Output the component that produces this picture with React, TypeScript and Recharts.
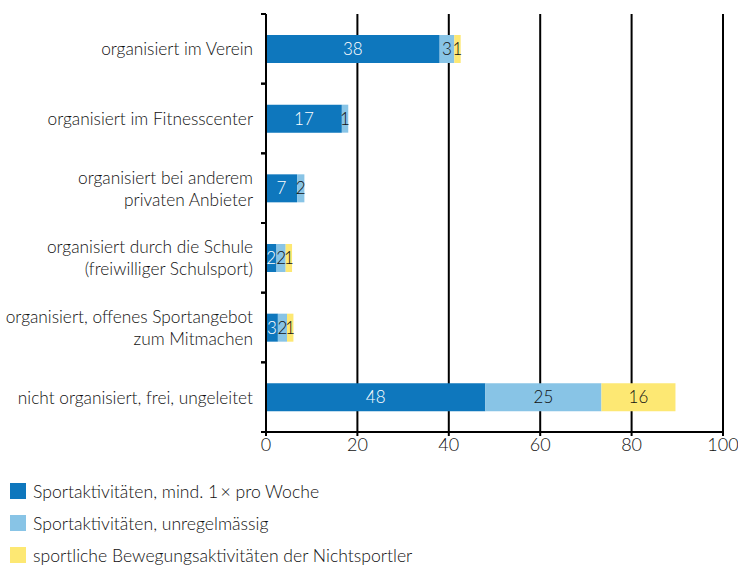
import React from "react";
import {
  BarChart,
  Bar,
  XAxis,
  YAxis,
  CartesianGrid,
  LabelList,
} from "recharts";

const categories = [
  "organisiert im Verein",
  "organisiert im Fitnesscenter",
  "organisiert bei anderem\nprivaten Anbieter",
  "organisiert durch die Schule\n(freiwilliger Schulsport)",
  "organisiert, offenes Sportangebot\nzum Mitmachen",
  "nicht organisiert, frei, ungeleitet",
];
const weekly = [38, 16.6, 6.8, 2.3, 2.6, 48];
const irregular = [3.2, 1.4, 1.6, 2, 2, 25.4];
const nonSport = [1.4, 0, 0, 1.4, 1.4, 16.2];
const xTicks = [0, 20, 40, 60, 80, 100];

const seriesNames = [
  "Sportaktivitäten, mind. 1\u2009× pro Woche",
  "Sportaktivitäten, unregelmässig",
  "sportliche Bewegungsaktivitäten der Nichtsportler",
];
const colors = ["#0e77bd", "#88c4e6", "#fde873"];

const data = categories.map((name, i) => ({
  name,
  weekly: weekly[i],
  irregular: irregular[i],
  nonSport: nonSport[i],
}));

const FONT = "Lato, 'Open Sans', sans-serif";
const WEIGHT = 300;
const TEXT = "#111";
const BAND = (432 - 14) / categories.length;

function CategoryTick(props: { x?: number; y?: number; payload?: { value: string } }) {
  const { y = 0, payload } = props;
  const lines = (payload?.value ?? "").split("\n");
  const lineGap = 22;
  const start = y - ((lines.length - 1) * lineGap) / 2;
  return (
    <g>
      <line x1={261} x2={266} y1={y - BAND / 2} y2={y - BAND / 2} stroke="#000" strokeWidth={2} />
      <line x1={261} x2={266} y1={y + BAND / 2} y2={y + BAND / 2} stroke="#000" strokeWidth={2} />
      {lines.map((l, i) => (
        <text
          key={i}
          x={253}
          y={start + i * lineGap}
          textAnchor="end"
          dominantBaseline="central"
          fill={TEXT}
          fontSize={17.3}
          fontWeight={WEIGHT}
          fontFamily={FONT}
        >
          {l}
        </text>
      ))}
    </g>
  );
}

const fmt = (v: unknown) => {
  const n = Number(v);
  return n > 0 ? Math.round(n) : "";
};

export default function App() {
  return (
    <div style={{ position: "absolute", left: 0, top: 0, width: 738, height: 570, background: "#fff" }}>
      <BarChart
        width={738}
        height={470}
        data={data}
        layout="vertical"
        margin={{ top: 14, right: 15, bottom: 8, left: 0 }}
        barSize={28}
      >
        <CartesianGrid horizontal={false} stroke="#000" strokeWidth={2} />
        <XAxis
          type="number"
          domain={[0, 100]}
          ticks={xTicks}
          interval={0}
          axisLine={{ stroke: "#000", strokeWidth: 2 }}
          tickLine={{ stroke: "#000", strokeWidth: 2 }}
          tickSize={4}
          tick={{ fill: TEXT, fontSize: 18, fontFamily: FONT, fontWeight: WEIGHT }}
          height={30}
        />
        <XAxis
          xAxisId="top"
          orientation="top"
          type="number"
          domain={[0, 100]}
          tick={false}
          tickLine={false}
          axisLine={{ stroke: "#000", strokeWidth: 2 }}
          height={0}
        />
        <YAxis
          type="category"
          dataKey="name"
          width={266}
          axisLine={{ stroke: "#000", strokeWidth: 2 }}
          tickLine={false}
          tick={<CategoryTick />}
          interval={0}
        />
        <Bar dataKey="weekly" stackId="a" fill={colors[0]} isAnimationActive={false}>
          <LabelList dataKey="weekly" position="center" formatter={fmt} fill="#fff" fontSize={17} fontWeight={WEIGHT} fontFamily={FONT} />
        </Bar>
        <Bar dataKey="irregular" stackId="a" fill={colors[1]} isAnimationActive={false}>
          <LabelList dataKey="irregular" position="center" formatter={fmt} fill={TEXT} fontSize={17} fontWeight={WEIGHT} fontFamily={FONT} />
        </Bar>
        <Bar dataKey="nonSport" stackId="a" fill={colors[2]} isAnimationActive={false}>
          <LabelList dataKey="nonSport" position="center" formatter={fmt} fill={TEXT} fontSize={17} fontWeight={WEIGHT} fontFamily={FONT} />
        </Bar>
      </BarChart>
      {seriesNames.map((n, i) => (
        <div
          key={n}
          style={{
            position: "absolute",
            left: 10,
            top: 481 + i * 32,
            height: 20,
            display: "flex",
            alignItems: "center",
            fontFamily: FONT,
            fontWeight: WEIGHT,
            fontSize: 17.6,
            color: TEXT,
            whiteSpace: "nowrap",
          }}
        >
          <span style={{ display: "inline-block", width: 16, height: 16, background: colors[i], marginRight: 7 }} />
          {n}
        </div>
      ))}
    </div>
  );
}
